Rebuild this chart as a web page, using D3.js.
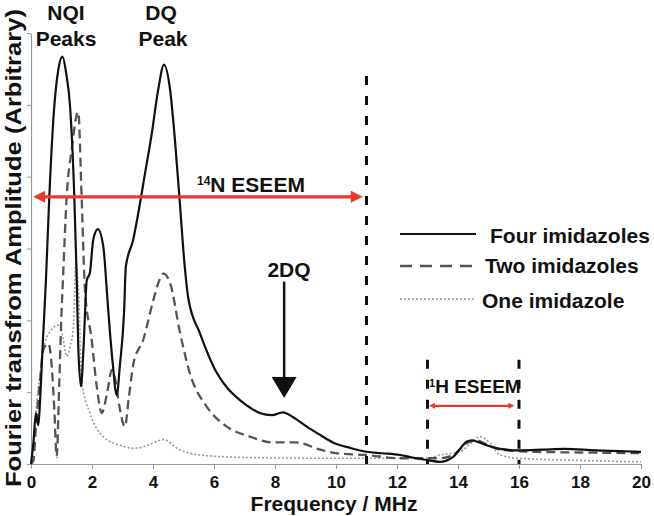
<!DOCTYPE html>
<html><head><meta charset="utf-8">
<script src="https://cdn.jsdelivr.net/npm/d3@7"></script>
<style>
html,body{margin:0;padding:0;background:#fff;}
text{font-family:"Liberation Sans",Arial,sans-serif;font-weight:bold;fill:#111;}
</style></head>
<body><svg id="c" width="654" height="516"></svg>
<script>
// ---- data (frequency MHz, amplitude arbitrary) ----
const fourFreq = [0,0.08,0.16,0.24,0.3,0.38,0.49,0.6,0.75,0.9,1.03,1.15,1.28,1.42,1.5,1.55,1.64,1.72,1.83,1.93,2.04,2.19,2.37,2.5,2.54,2.68,2.81,2.92,3.05,3.11,3.35,3.52,3.74,3.96,4.17,4.36,4.56,4.72,4.89,5.0,5.16,5.54,6.09,6.45,6.85,7.2,7.5,7.9,8.26,8.6,9.04,9.5,9.9,10.5,11,11.5,12.1,12.5,12.97,13.4,13.84,14.05,14.28,14.45,14.7,14.94,15.38,16.03,16.8,17.5,18.5,19.3,20];
const fourAmp  = [0,0.3,0.71,0.54,0.9,1.63,2.56,3.72,4.9,5.5,5.67,5.45,4.98,3.72,2.56,1.63,1.08,1.6,2.56,2.66,3.12,3.27,3.03,2.33,2.1,1.4,0.96,1.4,2.1,2.75,3.12,3.5,4.05,4.6,5.21,5.56,5.21,4.51,3.58,2.95,2.3,1.82,1.27,1.05,0.89,0.78,0.71,0.68,0.72,0.65,0.52,0.4,0.3,0.22,0.17,0.15,0.125,0.09,0.056,0.03,0.1,0.2,0.31,0.33,0.3,0.26,0.21,0.19,0.2,0.21,0.19,0.18,0.17];

const twoFreq = [0,0.08,0.16,0.3,0.4,0.57,0.68,0.77,0.84,0.93,1.0,1.04,1.17,1.33,1.55,1.66,1.77,1.99,2.15,2.32,2.5,2.65,2.75,2.9,3.08,3.2,3.36,3.68,4.01,4.2,4.34,4.56,4.89,5.21,5.76,6.42,7.18,7.94,8.7,9.48,10,11,12.1,13.4,13.84,14.28,14.6,15.0,15.38,16.5,18,20];
const twoAmp  = [0,0.05,0.52,1.17,1.59,1.68,1.36,0.71,0.1,1.17,2.1,2.49,3.72,4.37,4.9,3.72,2.42,1.73,1.1,0.71,1.0,1.31,1.2,0.8,0.52,0.9,1.4,1.73,2.28,2.55,2.65,2.52,1.82,1.26,0.8,0.52,0.38,0.3,0.3,0.2,0.15,0.125,0.08,0.08,0.125,0.29,0.33,0.26,0.2,0.17,0.16,0.15];

const oneFreq = [0,0.1,0.2,0.3,0.4,0.62,0.95,1.05,1.17,1.28,1.39,1.47,1.58,1.66,1.93,2.37,2.92,3.36,3.7,4.0,4.36,4.78,5.54,7.18,9.9,13,13.4,14.07,14.4,14.72,15.05,15.38,16,18,20];
const oneAmp  = [0,0.4,0.9,1.26,1.59,1.84,1.94,1.75,1.5,1.63,1.9,2.8,2.2,1.17,0.71,0.38,0.26,0.22,0.24,0.29,0.34,0.22,0.125,0.09,0.08,0.08,0.125,0.17,0.28,0.38,0.29,0.125,0.08,0.05,0.03];

const xTicks = [0,2,4,6,8,10,12,14,16,18,20];
const yTicks = [0,1,2,3,4,5,6];
const seriesNames = ["Four imidazoles","Two imidazoles","One imidazole"];
const markerFreqs = [11,13,16];

// ---- layout ----
const svg = d3.select("#c");
const x = d3.scaleLinear().domain([0,20]).range([31,641]);
const y = d3.scaleLinear().domain([0,6]).range([464,33]);

// axes
const gx = svg.append("g").attr("transform","translate(0,464)")
  .call(d3.axisBottom(x).tickValues(xTicks).tickSize(5).tickSizeOuter(0).tickPadding(7).tickFormat(d3.format("d")));
gx.select(".domain").attr("stroke","#999").attr("stroke-width",1.2);
gx.selectAll(".tick line").attr("stroke","#999");
gx.selectAll(".tick text").style("font-size","17px").attr("fill","#111")
  .style("font-family","'Liberation Sans',Arial,sans-serif").style("font-weight","bold");

const gy = svg.append("g").attr("transform","translate(31,0)")
  .call(d3.axisLeft(y).tickValues(yTicks).tickSize(4).tickSizeOuter(0).tickFormat(""));
gy.select(".domain").attr("stroke","#999").attr("stroke-width",1.2);
gy.selectAll(".tick line").attr("stroke","#999");

// curves
const line = d3.line().x(d=>x(d[0])).y(d=>y(d[1])).curve(d3.curveMonotoneX);
const zip = (a,b)=>a.map((v,i)=>[v,b[i]]);

svg.append("path").datum(zip(oneFreq,oneAmp)).attr("d",line)
  .attr("fill","none").attr("stroke","#9a9a9a").attr("stroke-width",1.6).attr("stroke-dasharray","2,2");
svg.append("path").datum(zip(twoFreq,twoAmp)).attr("d",line)
  .attr("fill","none").attr("stroke","#555").attr("stroke-width",2.3).attr("stroke-dasharray","9,5");
svg.append("path").datum(zip(fourFreq,fourAmp)).attr("d",line)
  .attr("fill","none").attr("stroke","#111").attr("stroke-width",2.2);

// vertical dashed marker lines
markerFreqs.forEach((f,i)=>{
  svg.append("line").attr("x1",x(f)).attr("x2",x(f))
    .attr("y1", i===0 ? y(5.4) : y(1.45)).attr("y2",y(0))
    .attr("stroke","#111").attr("stroke-width",3).attr("stroke-dasharray","9,11");
});

// red double arrows
const red = "#e8392c";
function dblArrow(x1,x2,yy,w,hl,hw){
  svg.append("line").attr("x1",x1+hl*0.6).attr("x2",x2-hl*0.6).attr("y1",yy).attr("y2",yy)
    .attr("stroke",red).attr("stroke-width",w);
  svg.append("path").attr("fill",red)
    .attr("d",`M${x1},${yy}L${x1+hl},${yy-hw/2}L${x1+hl},${yy+hw/2}Z`);
  svg.append("path").attr("fill",red)
    .attr("d",`M${x2},${yy}L${x2-hl},${yy-hw/2}L${x2-hl},${yy+hw/2}Z`);
}
dblArrow(x(0.07), x(10.88), y(3.72), 3.2, 12, 12);
dblArrow(x(13.05), x(15.85), y(0.81), 2.2, 6, 6);

// 2DQ arrow
const ax = x(8.3);
svg.append("line").attr("x1",ax).attr("x2",ax).attr("y1",y(2.54)).attr("y2",y(1.15))
  .attr("stroke","#111").attr("stroke-width",2.5);
svg.append("path").attr("fill","#111")
  .attr("d",`M${ax-12.5},${y(1.21)}L${ax+12.5},${y(1.21)}L${ax},${y(0.92)}Z`);

// annotation labels
function label(t,xx,yy,size,anchor){
  return svg.append("text").attr("x",xx).attr("y",yy).attr("text-anchor",anchor||"middle")
    .style("font-size",size+"px").text(t);
}
label("NQI",66,20,21);
label("Peaks",66,46,21);
label("DQ",161,20,21);
label("Peak",163,46,21);
label("2DQ",289,277,21);

const t14 = svg.append("text").attr("x",197).attr("y",192).style("font-size","21px");
t14.append("tspan").style("font-size","12px").attr("dy",-7).text("14");
t14.append("tspan").attr("dy",7).text("N ESEEM");

const t1 = svg.append("text").attr("x",429).attr("y",393).style("font-size","19px");
t1.append("tspan").style("font-size","11px").attr("dy",-6).text("1");
t1.append("tspan").attr("dy",6).text("H ESEEM");

// legend
const legY = [234,266,299];
const legTX = [490,485,482];
const legBase = [243,273,308];
const legStyles = [
  {stroke:"#111",w:2,dash:null},
  {stroke:"#555",w:2.3,dash:"12,8"},
  {stroke:"#9a9a9a",w:1.6,dash:"2,2"}
];
seriesNames.forEach((n,i)=>{
  const l = svg.append("line").attr("x1",400).attr("x2",476).attr("y1",legY[i]).attr("y2",legY[i])
    .attr("stroke",legStyles[i].stroke).attr("stroke-width",legStyles[i].w);
  if(legStyles[i].dash) l.attr("stroke-dasharray",legStyles[i].dash);
  label(n,legTX[i],legBase[i],21,"start");
});

// axis titles
label("Frequency / MHz",334,511,21);
svg.append("text").attr("transform","translate(21,248) rotate(-90)")
  .attr("text-anchor","middle").style("font-size","22px")
  .attr("textLength",478).attr("lengthAdjust","spacingAndGlyphs")
  .text("Fourier transfrom Amplitude (Arbitrary)");
</script></body></html>
